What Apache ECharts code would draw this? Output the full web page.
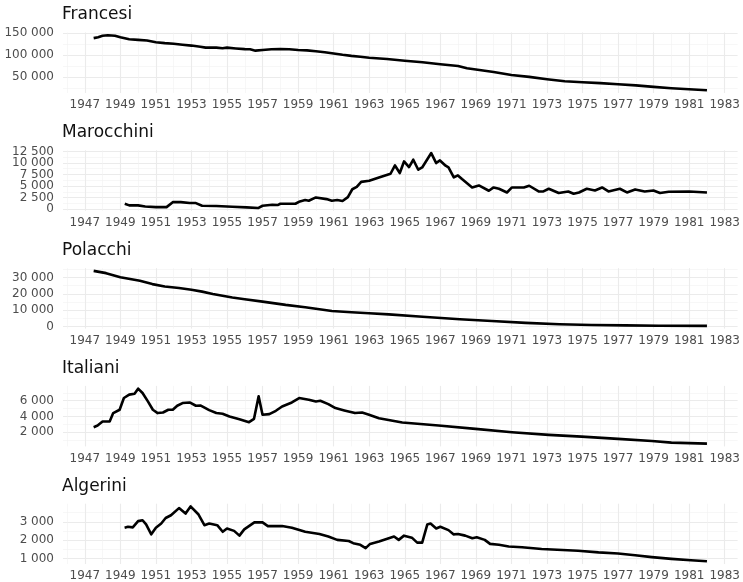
<!DOCTYPE html>
<html>
<head>
<meta charset="utf-8">
<script src="https://cdn.jsdelivr.net/npm/echarts@6/dist/echarts.min.js"></script>
<style>
  html, body { margin: 0; padding: 0; background: #fff; }
  #chart { width: 743px; height: 582px; }
</style>
</head>
<body>
<div id="chart"></div>
<script>
// pannelli: titolo + serie [anno, valore]
var titles = ["Francesi", "Marocchini", "Polacchi", "Italiani", "Algerini"];

var francesi = [
  [1947.5, 139000], [1947.75, 141000], [1948, 144500], [1948.3, 145500], [1948.7, 144500],
  [1949, 141000], [1949.5, 136500], [1950, 135000], [1950.5, 133500], [1951, 129500],
  [1951.5, 127500], [1952, 126000], [1952.5, 124000], [1953, 122000], [1953.5, 119500],
  [1953.8, 117300], [1954.4, 117300], [1954.75, 115800], [1955, 117300], [1955.5, 115500],
  [1956, 114000], [1956.3, 113500], [1956.6, 110500], [1957, 112000], [1957.5, 113800],
  [1958, 114300], [1958.5, 113600], [1959, 112000], [1959.5, 111000], [1960, 109000],
  [1960.5, 107000], [1961, 104000], [1961.5, 101000], [1962, 98500], [1962.5, 96500],
  [1963, 94500], [1964, 91500], [1965, 87500], [1966, 84000], [1967, 79500],
  [1968, 75500], [1968.5, 70500], [1969, 67500], [1970, 62000], [1971, 55000],
  [1972, 50800], [1973, 45500], [1974, 41000], [1975, 38500], [1976, 36500],
  [1977, 34000], [1978, 31500], [1979, 28000], [1980, 25000], [1981, 22700], [1982, 20400]
];

var marocchini = [
  [1949.25, 1150], [1949.5, 800], [1950, 800], [1950.4, 570], [1951, 420], [1951.6, 420],
  [1951.95, 1500], [1952.4, 1500], [1952.9, 1300], [1953.25, 1300], [1953.6, 720],
  [1954.4, 650], [1955.3, 500], [1956.1, 360], [1956.75, 220], [1957, 720], [1957.55, 940],
  [1957.85, 870], [1958, 1150], [1958.85, 1150], [1959.1, 1660], [1959.4, 1950],
  [1959.6, 1800], [1960, 2520], [1960.6, 2160], [1960.9, 1800], [1961.2, 1950],
  [1961.5, 1750], [1961.8, 2600], [1962.05, 4300], [1962.3, 4800], [1962.55, 5900],
  [1963, 6150], [1963.55, 6860], [1964.2, 7660], [1964.45, 9460], [1964.72, 7810],
  [1964.96, 10330], [1965.24, 9110], [1965.48, 10700], [1965.76, 8530], [1965.98, 9030],
  [1966.49, 12150], [1966.77, 9980], [1966.98, 10550], [1967.3, 9400], [1967.46, 9030],
  [1967.76, 6860], [1967.99, 7300], [1968.22, 6510], [1968.79, 4690], [1969.17, 5120],
  [1969.73, 3970], [1970, 4690], [1970.3, 4410], [1970.75, 3600], [1971.03, 4690],
  [1971.7, 4690], [1972, 5060], [1972.53, 3820], [1972.8, 3820], [1973.1, 4410],
  [1973.66, 3470], [1974.2, 3820], [1974.5, 3320], [1974.8, 3600], [1975.24, 4410],
  [1975.7, 4040], [1976.1, 4690], [1976.46, 3820], [1977.1, 4410], [1977.5, 3600],
  [1977.96, 4260], [1978.5, 3820], [1978.99, 4040], [1979.36, 3470], [1979.85, 3750],
  [1981, 3820], [1982, 3600]
];

var polacchi = [
  [1947.5, 34100], [1948.2, 32700], [1949, 30200], [1950.1, 28000], [1950.8, 26000],
  [1951.5, 24500], [1952.3, 23600], [1953, 22500], [1953.6, 21400], [1954.2, 20000],
  [1955.3, 17800], [1956, 16700], [1957, 15300], [1958.3, 13300], [1959.4, 11900],
  [1960, 10900], [1960.9, 9600], [1962, 8800], [1963, 8200], [1964.1, 7500],
  [1966, 6100], [1968.1, 4500], [1969.9, 3500], [1971.8, 2300], [1973.7, 1500],
  [1975.5, 1000], [1977.4, 800], [1979.3, 600], [1982, 500]
];

var italiani = [
  [1947.5, 2640], [1947.72, 2850], [1948, 3360], [1948.4, 3360], [1948.6, 4430],
  [1948.96, 4850], [1949.2, 6340], [1949.5, 6770], [1949.8, 6890], [1950, 7530],
  [1950.25, 6980], [1950.55, 5910], [1950.83, 4850], [1951.1, 4430], [1951.4, 4500],
  [1951.7, 4850], [1951.95, 4850], [1952.2, 5360], [1952.5, 5700], [1952.9, 5780],
  [1953.25, 5360], [1953.5, 5400], [1954, 4800], [1954.4, 4430], [1954.75, 4340],
  [1955.14, 4000], [1955.7, 3660], [1956.24, 3280], [1956.52, 3700], [1956.78, 6550],
  [1957, 4210], [1957.38, 4300], [1957.75, 4720], [1958.1, 5270], [1958.65, 5780],
  [1959.06, 6340], [1959.6, 6130], [1960, 5910], [1960.25, 6000], [1960.7, 5570],
  [1961.1, 5060], [1961.6, 4760], [1962.2, 4430], [1962.6, 4500], [1962.95, 4250],
  [1963.55, 3770], [1964.86, 3230], [1966.9, 2850], [1968.98, 2420], [1971.03, 2000],
  [1973.1, 1660], [1974.95, 1440], [1977, 1150], [1978.9, 890], [1980, 680], [1982, 550]
];

var algerini = [
  [1949.24, 2680], [1949.43, 2730], [1949.7, 2700], [1950, 3040], [1950.25, 3090],
  [1950.45, 2860], [1950.74, 2320], [1951, 2680], [1951.3, 2910], [1951.55, 3210],
  [1951.85, 3360], [1952.3, 3750], [1952.67, 3450], [1952.95, 3840], [1953.4, 3400],
  [1953.73, 2820], [1954, 2910], [1954.45, 2820], [1954.76, 2460], [1955, 2640],
  [1955.4, 2510], [1955.7, 2250], [1955.97, 2590], [1956.54, 2970], [1957, 2970],
  [1957.3, 2770], [1958.1, 2770], [1958.65, 2680], [1959.4, 2460], [1960.2, 2340],
  [1960.7, 2200], [1961.2, 2020], [1961.85, 1960], [1962.1, 1840], [1962.5, 1750],
  [1962.8, 1570], [1963.05, 1800], [1963.55, 1930], [1964.4, 2200], [1964.66, 2020],
  [1964.96, 2250], [1965.4, 2140], [1965.7, 1870], [1965.98, 1870], [1966.27, 2860],
  [1966.45, 2910], [1966.77, 2640], [1967, 2730], [1967.46, 2550], [1967.74, 2320],
  [1968, 2340], [1968.4, 2250], [1968.8, 2110], [1969.05, 2160], [1969.5, 2020],
  [1969.8, 1800], [1970.3, 1750], [1970.85, 1660], [1971.6, 1620], [1972.7, 1520],
  [1974.75, 1430], [1975.9, 1340], [1977, 1280], [1977.96, 1180], [1978.9, 1080],
  [1980, 985], [1981.1, 910], [1982, 855]
];

var xMajorTicks = [1947, 1949, 1951, 1953, 1955, 1957, 1959, 1961, 1963, 1965, 1967, 1969,
  1971, 1973, 1975, 1977, 1979, 1981, 1983];
var xMinorTicks = [1946, 1948, 1950, 1952, 1954, 1956, 1958, 1960, 1962, 1964, 1966, 1968,
  1970, 1972, 1974, 1976, 1978, 1980, 1982];

var yMajorTicks = [
  [50000, 100000, 150000],
  [0, 2500, 5000, 7500, 10000, 12500],
  [0, 10000, 20000, 30000],
  [2000, 4000, 6000],
  [1000, 2000, 3000]
];
var yMinorTicks = [
  [25000, 75000, 125000],
  [1250, 3750, 6250, 8750, 11250],
  [5000, 15000, 25000, 35000],
  [1000, 3000, 5000, 7000],
  [1500, 2500, 3500]
];

var seriesData = [francesi, marocchini, polacchi, italiani, algerini];

var FONT = "DejaVu Sans";
var MAJOR = { color: "#ebebeb", width: 1.1 };
var MINOR = { color: "#f2f2f2", width: 0.6 };

// stessa scala x per tutti i pannelli, espansa del 5% come ggplot
var years = [];
seriesData.forEach(function (s) { s.forEach(function (p) { years.push(p[0]); }); });
var xLo = Math.min.apply(null, years), xHi = Math.max.apply(null, years);
var xMin = xLo - (xHi - xLo) * 0.05, xMax = xHi + (xHi - xLo) * 0.05;

function spaced(v) {
  return String(v).replace(/\B(?=(\d{3})+(?!\d))/g, " ");
}

var yLabelStyle = { margin: 9, color: "#4d4d4d", fontSize: 12, fontFamily: FONT, formatter: spaced };

var option = { animation: false, title: [], grid: [], xAxis: [], yAxis: [], series: [] };

seriesData.forEach(function (data, i) {
  var vals = data.map(function (p) { return p[1]; });
  var lo = Math.min.apply(null, vals), hi = Math.max.apply(null, vals);
  var pad = (hi - lo) * 0.05;
  // etichette y divise su due assi, altrimenti ECharts nasconde quelle troppo vicine
  var labA = yMajorTicks[i].filter(function (v, k) { return k % 2 === 0; });
  var labB = yMajorTicks[i].filter(function (v, k) { return k % 2 === 1; });

  option.title.push({
    text: titles[i], left: 62, top: 5 + i * 118, padding: 0,
    textStyle: { fontFamily: FONT, fontSize: 17, fontWeight: "normal", color: "#111", lineHeight: 20 }
  });
  option.grid.push({ left: 63, right: 3, top: 32.5 + i * 117.8, height: 60.5 });

  // asse principale (etichette + griglia maggiore) e asse secondario (griglia minore)
  option.xAxis.push({
    type: "value", gridIndex: i, min: xMin, max: xMax,
    axisLine: { show: false }, axisTick: { show: false, customValues: xMajorTicks },
    axisLabel: { customValues: xMajorTicks, margin: 6, color: "#4d4d4d", fontSize: 12, fontFamily: FONT,
      formatter: function (v) { return String(v); } },
    splitLine: { show: true, lineStyle: MAJOR }
  });
  option.xAxis.push({
    type: "value", gridIndex: i, min: xMin, max: xMax,
    axisLine: { show: false }, axisTick: { show: false, customValues: xMinorTicks },
    axisLabel: { show: false }, splitLine: { show: true, lineStyle: MINOR }
  });
  option.yAxis.push({
    type: "value", gridIndex: i, min: lo - pad, max: hi + pad, position: "left",
    axisLine: { show: false }, axisTick: { show: false, customValues: yMajorTicks[i] },
    axisLabel: Object.assign({ customValues: labA }, yLabelStyle),
    splitLine: { show: true, lineStyle: MAJOR }
  });
  option.yAxis.push({
    type: "value", gridIndex: i, min: lo - pad, max: hi + pad, position: "left",
    axisLine: { show: false }, axisTick: { show: false, customValues: yMinorTicks[i] },
    axisLabel: labB.length ? Object.assign({ customValues: labB }, yLabelStyle) : { show: false },
    splitLine: { show: true, lineStyle: MINOR }
  });

  option.series.push({
    type: "line", xAxisIndex: 2 * i, yAxisIndex: 2 * i, data: data,
    showSymbol: false, silent: true, z: 5,
    lineStyle: { color: "#000", width: 2.6, join: "round" }
  });
});

var chart = echarts.init(document.getElementById("chart"));
chart.setOption(option);
window.onresize = chart.resize;
</script>
</body>
</html>
